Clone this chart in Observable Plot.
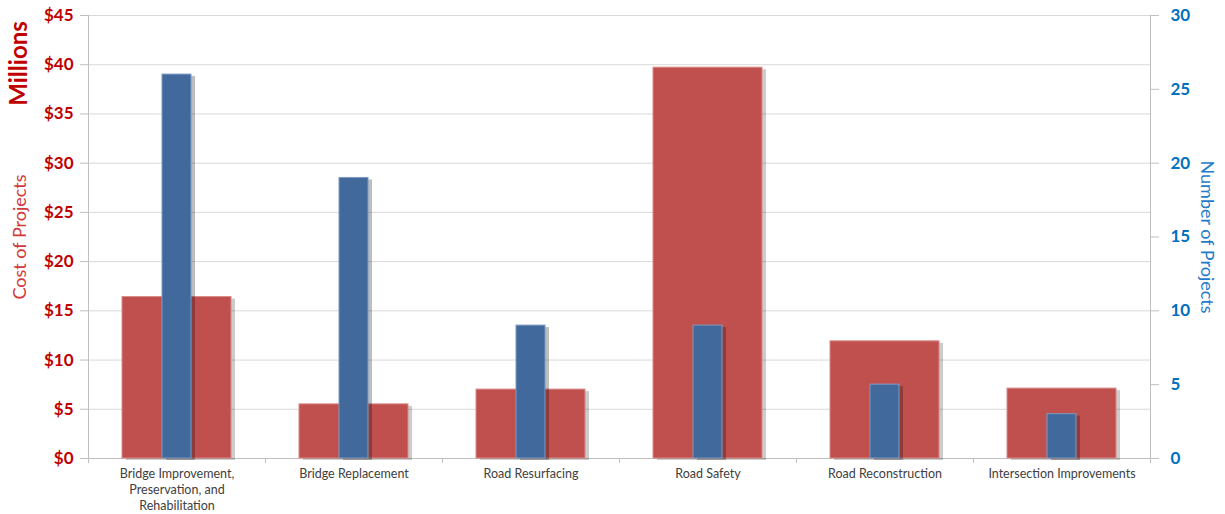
<!DOCTYPE html>
<html>
<head>
<meta charset="utf-8">
<script src="https://cdn.jsdelivr.net/npm/d3@7"></script>
<script src="https://cdn.jsdelivr.net/npm/@observablehq/plot@0.6"></script>
<style>
  html, body { margin: 0; padding: 0; background: #fff; }
  #chart svg { display: block; }
</style>
</head>
<body>
<div id="chart"></div>
<script>
// ---- data ----
const categories = [
  "Bridge Improvement,\nPreservation, and\nRehabilitation",
  "Bridge Replacement",
  "Road Resurfacing",
  "Road Safety",
  "Road Reconstruction",
  "Intersection Improvements"
];
const costMillions = [16.4, 5.5, 7.0, 39.7, 11.9, 7.1];
const projectCounts = [26, 19, 9, 9, 5, 3];
const costTicks = [0, 5, 10, 15, 20, 25, 30, 35, 40, 45];
const countTicks = [0, 5, 10, 15, 20, 25, 30];

const costMax = costTicks[costTicks.length - 1];
const countMax = countTicks[countTicks.length - 1];
const k = costMax / countMax; // map counts onto the cost axis

const rows = categories.map((c, i) => ({
  i, label: c, cost: costMillions[i], count: projectCounts[i]
}));

const RED = "#C0504D", BLUE = "#41699C";
const font = "Lato, 'Open Sans', sans-serif";

const chart = Plot.plot({
  width: 1225,
  height: 514,
  marginLeft: 88,
  marginRight: 75,
  marginTop: 15,
  marginBottom: 56,
  style: { fontFamily: font, background: "#fff" },
  x: { domain: [0, categories.length], axis: null },
  y: { domain: [0, costMax], axis: null },
  marks: [
    Plot.gridY(costTicks, { stroke: "#d9d9d9", strokeOpacity: 1 }),
    Plot.ruleX([0, categories.length], { stroke: "#bfbfbf" }),
    Plot.ruleY([0], { stroke: "#bfbfbf" }),
    // bottom tick marks at category boundaries
    Plot.axisX({ ticks: d3.range(0, categories.length + 1), tickFormat: () => "", tickSize: 5, stroke: "#bfbfbf", label: null }),
    // category labels
    Plot.text(rows, {
      x: d => d.i + 0.5, y: 0, text: "label", lineAnchor: "top", dy: 8,
      fontSize: 12.5, fill: "#404040", lineHeight: 1.28
    }),
    // left axis
    Plot.axisY({
      anchor: "left", ticks: costTicks, tickFormat: d => "$" + d, tickSize: 8, tickPadding: 7, label: null,
      stroke: "#bfbfbf", fill: "#C00000", fontSize: 17, fontWeight: "bold"
    }),
    // right axis
    Plot.axisY({
      anchor: "right", ticks: countTicks.map(t => t * k), tickFormat: d => Math.round(d / k), tickSize: 8, tickPadding: 12, label: null,
      stroke: "#bfbfbf", fill: "#0070C0", fontSize: 17, fontWeight: "bold"
    }),
    // cost bars (shadow + bar)
    Plot.rectY(rows, { x1: d => d.i, x2: d => d.i + 1, y: "cost", insetLeft: 34, insetRight: 34, fill: "#000", fillOpacity: 0.2, dx: 4, dy: 2 }),
    Plot.rectY(rows, { x1: d => d.i, x2: d => d.i + 1, y: "cost", insetLeft: 34, insetRight: 34, fill: RED, stroke: "#d88a87", strokeWidth: 1 }),
    // count bars (shadow + bar)
    Plot.rectY(rows, { x1: d => d.i, x2: d => d.i + 1, y: d => d.count * k, insetLeft: 74, insetRight: 74, fill: "#000", fillOpacity: 0.26, dx: 4, dy: 2 }),
    Plot.rectY(rows, { x1: d => d.i, x2: d => d.i + 1, y: d => d.count * k, insetLeft: 74, insetRight: 74, fill: BLUE, stroke: "#7d9cc4", strokeWidth: 1 }),
    // axis titles
    Plot.text(["Cost of Projects"], { frameAnchor: "left", textAnchor: "middle", lineAnchor: "middle", dx: -68, rotate: -90, fill: "#D03A3A", fontSize: 18 }),
    Plot.text(["Millions"], { frameAnchor: "top-left", textAnchor: "middle", lineAnchor: "middle", dx: -69, dy: 48, rotate: -90, fill: "#C00000", fontSize: 24, fontWeight: "bold" }),
    Plot.text(["Number of Projects"], { frameAnchor: "right", textAnchor: "middle", lineAnchor: "middle", dx: 56, rotate: 90, fill: "#1F7CC8", fontSize: 18 })
  ]
});
document.getElementById("chart").appendChild(chart);
</script>
</body>
</html>
